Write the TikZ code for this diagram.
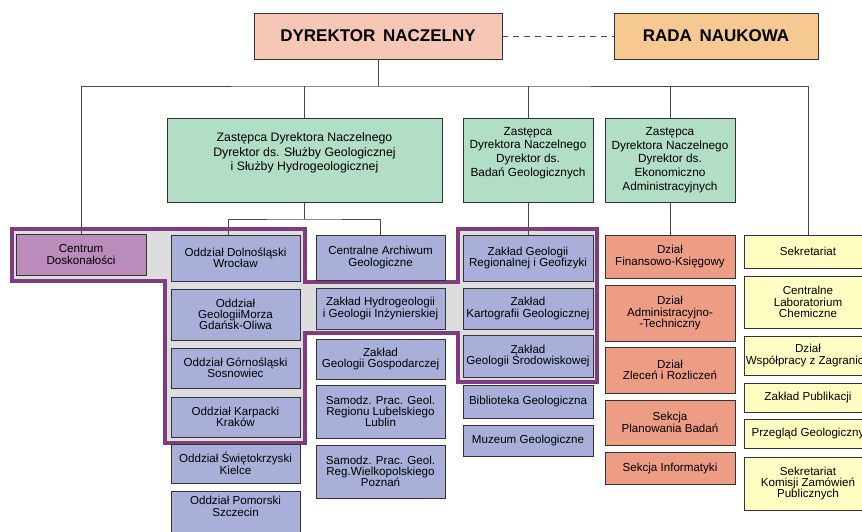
\documentclass[tikz,border=0pt]{standalone}
\usepackage{fontspec}
\setmainfont{Liberation Sans}
\definecolor{blueb}{HTML}{A9AFD9}
\definecolor{greenb}{HTML}{B2DDC7}
\definecolor{orangeb}{HTML}{EE9D85}
\definecolor{yellowb}{HTML}{FFFFC4}
\definecolor{mauveb}{HTML}{BB8BBB}
\definecolor{dnfill}{HTML}{F6C7B5}
\definecolor{radafill}{HTML}{F5C991}
\definecolor{purp}{HTML}{7E3E7E}
\definecolor{grayhl}{HTML}{DDDDDD}
\definecolor{boxline}{HTML}{333333}
\definecolor{lnc}{HTML}{4A4A4A}
\tikzset{
  ob/.style={draw=boxline, line width=0.9pt, inner sep=0pt, outer sep=0pt, align=center,
    font=\fontsize{11.6}{11.3}\selectfont},
  blu/.style={ob, fill=blueb},
  grn/.style={ob, fill=greenb, font=\fontsize{11.8}{13.6}\selectfont},
  grnbig/.style={ob, fill=greenb, font=\fontsize{12.3}{14.5}\selectfont},
  org/.style={ob, fill=orangeb},
  yel/.style={ob, fill=yellowb},
  mau/.style={ob, fill=mauveb},
  topbox/.style={ob, font=\fontsize{17}{20}\selectfont\bfseries},
  conn/.style={draw=lnc, line width=0.8pt},
  hlpath/.style={draw=purp, line width=3.3pt, line join=miter},
}
\newcommand\orgbox[7]{\node[#6, minimum width={#4-#2}, minimum height={#5-#3}] (#1) at ({(#2+#4)/2},{(#3+#5)/2}) {#7};}
\begin{document}
\begin{tikzpicture}[x=1pt,y=-1pt]
\useasboundingbox (0,0) rectangle (862,532);
\clip (0,0) rectangle (862,532);
\fill[white] (0,0) rectangle (862,532);
% highlighted region
\fill[grayhl] (12,229) -- (305,229) -- (305,282) -- (458,282) -- (458,229) -- (597,229) -- (597,382) -- (458,382) -- (458,333) -- (305,333) -- (305,443) -- (165,443) -- (165,281) -- (12,281) -- cycle;
\path[hlpath] (12,229) -- (305,229) -- (305,282) -- (458,282) -- (458,229) -- (597,229) -- (597,382) -- (458,382) -- (458,333) -- (305,333) -- (305,443) -- (165,443) -- (165,281) -- (12,281) -- cycle;
% top
\orgbox{dn}{254}{13}{502}{59}{topbox, fill=dnfill}{DYREKTOR\hspace{0.45em}NACZELNY}
\orgbox{rada}{614}{13}{818}{59}{topbox, fill=radafill}{RADA\hspace{0.45em}NAUKOWA}
% deputies
\orgbox{grA}{167}{118}{442}{202}{grnbig}{Zastępca Dyrektora Naczelnego\\Dyrektor ds. Służby Geologicznej\\i Służby Hydrogeologicznej\\[2pt]}
\orgbox{grB}{463}{118}{593}{202}{grn}{Zastępca\\Dyrektora Naczelnego\\Dyrektor ds.\\Badań Geologicznych\\[3pt]}
\orgbox{grC}{605}{118}{735}{202}{grn}{Zastępca\\Dyrektora Naczelnego\\Dyrektor ds.\\Ekonomiczno\\Administracyjnych}
% Centrum
\orgbox{cen}{16}{234}{146}{275}{mau}{Centrum\\Doskonałości}
% column 1
\orgbox{odl}{171}{235}{300}{281}{blu}{Oddział Dolnośląski\\Wrocław}
\orgbox{ogm}{171}{289}{300}{340}{blu}{Oddział\\GeologiiMorza\\Gdańsk-Oliwa}
\orgbox{ogs}{171}{348}{300}{388}{blu}{Oddział Górnośląski\\Sosnowiec}
\orgbox{oka}{171}{397}{300}{437}{blu}{Oddział Karpacki\\Kraków}
\orgbox{osw}{171}{444}{300}{483}{blu}{Oddział Świętokrzyski\\Kielce}
\orgbox{opo}{171}{491}{300}{545}{blu}{Oddział Pomorski\\Szczecin\\[12pt]}
% column 2
\orgbox{cag}{316}{235}{445}{280}{blu}{Centralne Archiwum\\Geologiczne}
\orgbox{zhg}{316}{288}{445}{329}{blu}{Zakład Hydrogeologii\\i Geologii Inżynierskiej}
\orgbox{zgg}{316}{339}{445}{379}{blu}{Zakład\\Geologii Gospodarczej}
\orgbox{spl}{316}{385}{445}{438}{blu}{Samodz. Prac. Geol.\\Regionu Lubelskiego\\Lublin}
\orgbox{spp}{316}{445}{445}{498}{blu}{Samodz. Prac. Geol.\\Reg.Wielkopolskiego\\Poznań}
% column 3
\orgbox{zgr}{463}{235}{593}{281}{blu}{Zakład Geologii\\Regionalnej i Geofizyki}
\orgbox{zkg}{463}{288}{593}{329}{blu}{Zakład\\Kartografii Geologicznej}
\orgbox{zgs}{463}{335}{593}{377}{blu}{Zakład\\Geologii Środowiskowej}
\orgbox{bib}{463}{385}{593}{418}{blu}{Biblioteka Geologiczna}
\orgbox{muz}{463}{425}{593}{456}{blu}{Muzeum Geologiczne}
% column 4
\orgbox{dfk}{605}{235}{735}{278}{org}{Dział\\Finansowo-Księgowy}
\orgbox{dat}{605}{285}{735}{341}{org}{Dział\\Administracyjno-\\-Techniczny}
\orgbox{dzr}{605}{347}{735}{393}{org}{Dział\\Zleceń i Rozliczeń}
\orgbox{spb}{605}{400}{735}{445}{org}{Sekcja\\Planowania Badań}
\orgbox{sin}{605}{452}{735}{484}{org}{Sekcja Informatyki}
% column 5
\orgbox{sek}{744}{235}{872}{268}{yel}{Sekretariat}
\orgbox{clc}{744}{276}{872}{328}{yel}{Centralne\\Laboratorium\\Chemiczne}
\orgbox{dwz}{744}{336}{872}{375}{yel}{Dział\\Współpracy z Zagranicą}
\orgbox{zpu}{744}{383}{872}{412}{yel}{Zakład Publikacji}
\orgbox{pge}{744}{419}{872}{448}{yel}{Przegląd Geologiczny}
\orgbox{skz}{744}{457}{872}{510}{yel}{Sekretariat\\Komisji Zamówień\\Publicznych}
% connectors
\coordinate (hub) at (378,86);
\draw[conn] (dn.south) -- (hub);
\draw[conn, dash pattern=on 6pt off 5pt] (dn.east) -- (rada.west);
\draw[conn] (cen.north) |- (hub) -| (sek.north);
\draw[conn] (grA.north) -- (grA.north |- hub);
\draw[conn] (grB.north) -- (grB.north |- hub);
\draw[conn] (grC.north) -- (grC.north |- hub);
\draw[conn] (grA.south) -- ++(0,17) coordinate (jA);
\draw[conn] ([xshift=-7pt]odl.north) |- (jA) -| (cag.north);
\draw[conn] (grB.south) -- (zgr.north);
\draw[conn] (grC.south) -- (dfk.north);
\end{tikzpicture}
\end{document}
